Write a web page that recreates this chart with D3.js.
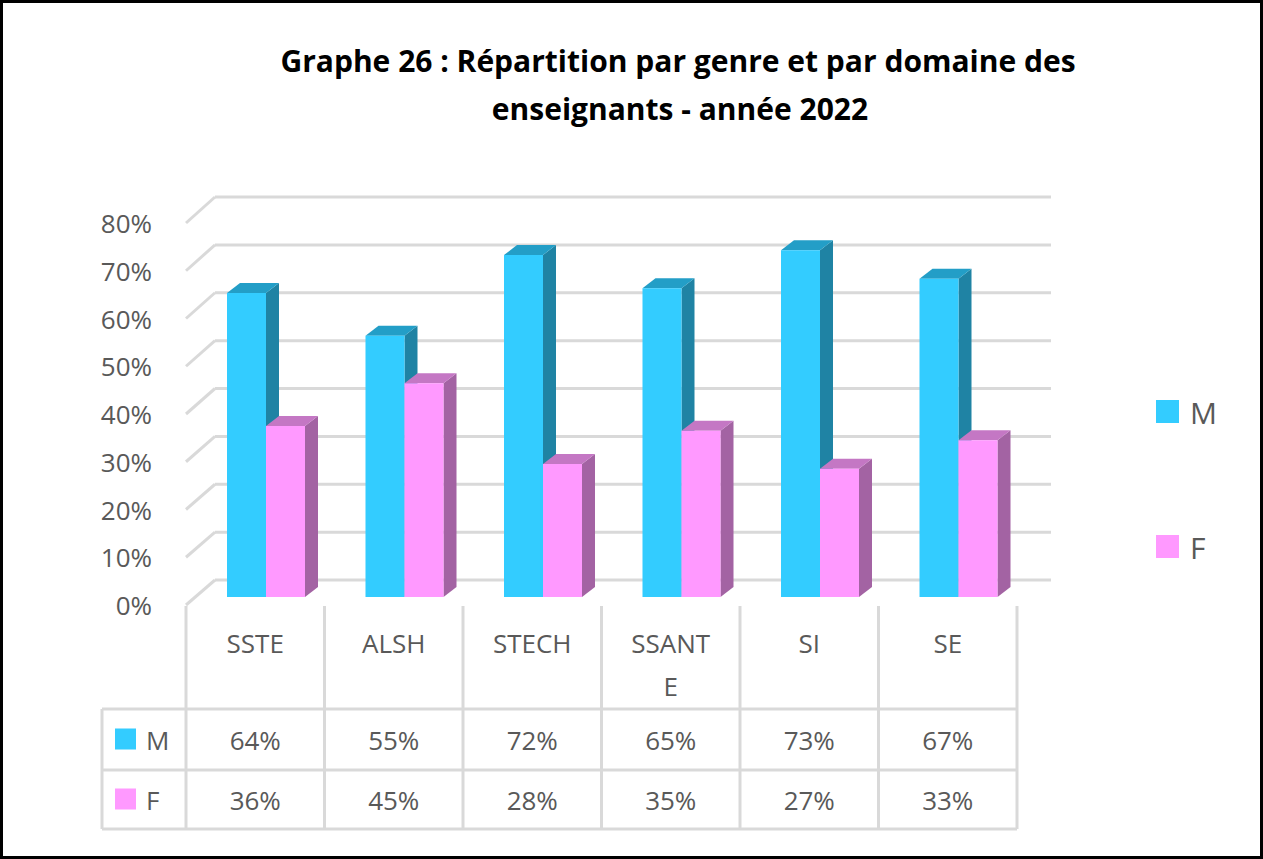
<!DOCTYPE html>
<html><head><meta charset="utf-8">
<script src="https://cdn.jsdelivr.net/npm/d3@7"></script>
<style>body{margin:0;background:#fff}svg{display:block}text{font-family:"Open Sans","Noto Sans",sans-serif}</style>
</head><body>
<script>
const categories=["SSTE","ALSH","STECH","SSANTE","SI","SE"];
const catLines=[["SSTE"],["ALSH"],["STECH"],["SSANT","E"],["SI"],["SE"]];
const seriesNames=["M","F"];
const valuesM=[64,55,72,65,73,67];
const valuesF=[36,45,28,35,27,33];
const yTicks=[0,10,20,30,40,50,60,70,80];
const colors={M:{front:"#33ccff",side:"#1f83a4",top:"#239ec7"},F:{front:"#ff99ff",side:"#a363a3",top:"#c477c4"}};

const W=1263,H=859;
const svg=d3.select("body").append("svg").attr("width",W).attr("height",H);
svg.append("rect").attr("x",1.5).attr("y",1.5).attr("width",W-3).attr("height",H-3).attr("fill","#fff").attr("stroke","#000").attr("stroke-width",3);

svg.append("text").attr("x",678).attr("y",72).attr("text-anchor","middle").attr("font-size",30).attr("font-weight","bold").attr("fill","#000").text("Graphe 26 : Répartition par genre et par domaine des");
svg.append("text").attr("x",680).attr("y",120).attr("text-anchor","middle").attr("font-size",30).attr("font-weight","bold").attr("fill","#000").text("enseignants - année 2022");

const x=d3.scaleBand().domain(categories).range([186,1017]);
const yFront=d3.scaleLinear().domain([0,80]).range([605,223]);
const yBack=d3.scaleLinear().domain([0,80]).range([580,197]);
const yBar=d3.scaleLinear().domain([0,80]).range([597,217]);
const grey="#d9d9d9";
const g=svg.append("g");
yTicks.forEach(t=>{
  g.append("line").attr("x1",215).attr("x2",1051).attr("y1",yBack(t)).attr("y2",yBack(t)).attr("stroke",grey).attr("stroke-width",3);
  g.append("line").attr("x1",186).attr("x2",215).attr("y1",yFront(t)).attr("y2",yBack(t)).attr("stroke",grey).attr("stroke-width",3);
  svg.append("text").attr("x",152).attr("y",yFront(t)+10).attr("text-anchor","end").attr("font-size",26).attr("fill","#595959").text(t+"%");
});

const dx=13,dy=-10,bw=39;
const data=[];
categories.forEach((c,i)=>{data.push({c,s:"M",v:valuesM[i],k:0});data.push({c,s:"F",v:valuesF[i],k:1});});
data.forEach(d=>{
  const x0=x(d.c)+41+d.k*bw, x1=x0+bw, yt=yBar(d.v), yb=yBar(0), col=colors[d.s];
  g.append("path").attr("d",`M${x1},${yb}L${x1+dx},${yb+dy}L${x1+dx},${yt+dy}L${x1},${yt}Z`).attr("fill",col.side);
  g.append("path").attr("d",`M${x0},${yt}L${x0+dx},${yt+dy}L${x1+dx},${yt+dy}L${x1},${yt}Z`).attr("fill",col.top);
  g.append("rect").attr("x",x0).attr("y",yt).attr("width",bw).attr("height",yb-yt).attr("fill",col.front);
});

// table
const tl=svg.append("g").attr("stroke",grey).attr("stroke-width",3);
const rowY=[709,770,829];
categories.forEach((c,i)=>{tl.append("line").attr("x1",x(c)).attr("x2",x(c)).attr("y1",606).attr("y2",829);});
tl.append("line").attr("x1",1017).attr("x2",1017).attr("y1",606).attr("y2",829);
tl.append("line").attr("x1",102).attr("x2",102).attr("y1",709).attr("y2",829);
rowY.forEach(y=>tl.append("line").attr("x1",102).attr("x2",1017).attr("y1",y).attr("y2",y));
catLines.forEach((ls,i)=>{
  ls.forEach((l,j)=>svg.append("text").attr("x",x(categories[i])+x.bandwidth()/2).attr("y",653+j*43).attr("text-anchor","middle").attr("font-size",26).attr("fill","#595959").text(l));
});
[valuesM,valuesF].forEach((vals,r)=>{
  const yc=(rowY[r]+rowY[r+1])/2;
  svg.append("rect").attr("x",115).attr("y",yc-11).attr("width",21).attr("height",21).attr("fill",colors[seriesNames[r]].front);
  svg.append("text").attr("x",146).attr("y",yc+10).attr("font-size",26).attr("fill","#595959").text(seriesNames[r]);
  vals.forEach((v,i)=>svg.append("text").attr("x",x(categories[i])+x.bandwidth()/2).attr("y",yc+10).attr("text-anchor","middle").attr("font-size",26).attr("fill","#595959").text(v+"%"));
});
// legend
seriesNames.forEach((s,i)=>{
  const yc=412+i*135;
  svg.append("rect").attr("x",1156).attr("y",yc-12).attr("width",23).attr("height",23).attr("fill",colors[s].front);
  svg.append("text").attr("x",1190).attr("y",yc+12).attr("font-size",30).attr("fill","#595959").text(s);
});
</script>
</body></html>
